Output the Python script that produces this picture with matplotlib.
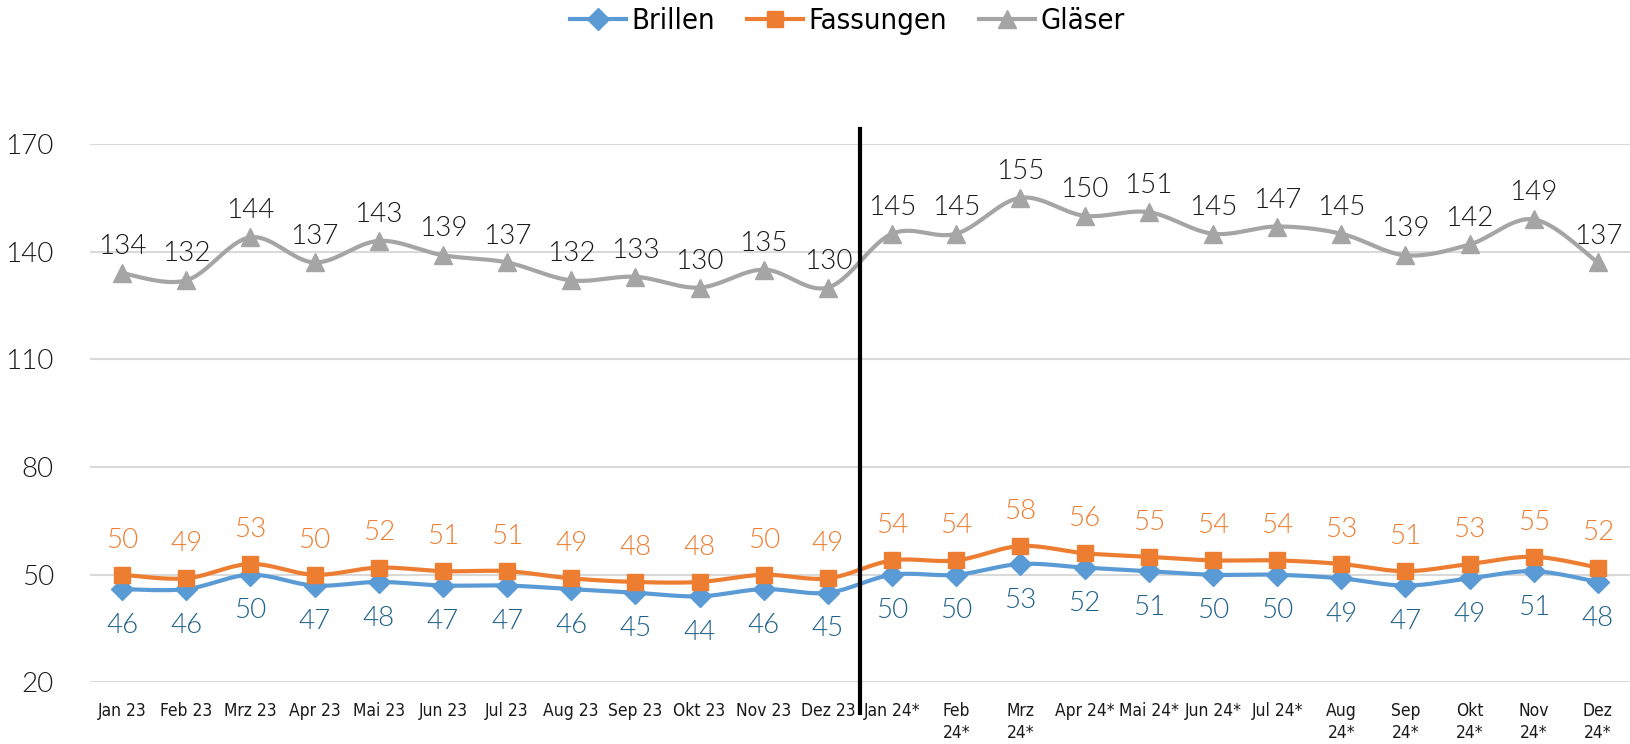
import matplotlib
matplotlib.use("Agg")
import matplotlib.pyplot as plt
import numpy as np

months = ["Jan 23", "Feb 23", "Mrz 23", "Apr 23", "Mai 23", "Jun 23", "Jul 23",
          "Aug 23", "Sep 23", "Okt 23", "Nov 23", "Dez 23",
          "Jan 24*", "Feb\n24*", "Mrz\n24*", "Apr 24*", "Mai 24*", "Jun 24*",
          "Jul 24*", "Aug\n24*", "Sep\n24*", "Okt\n24*", "Nov\n24*", "Dez\n24*"]
brillen = [46, 46, 50, 47, 48, 47, 47, 46, 45, 44, 46, 45,
           50, 50, 53, 52, 51, 50, 50, 49, 47, 49, 51, 48]
fassungen = [50, 49, 53, 50, 52, 51, 51, 49, 48, 48, 50, 49,
             54, 54, 58, 56, 55, 54, 54, 53, 51, 53, 55, 52]
glaeser = [134, 132, 144, 137, 143, 139, 137, 132, 133, 130, 135, 130,
           145, 145, 155, 150, 151, 145, 147, 145, 139, 142, 149, 137]
yticks = [20, 50, 80, 110, 140, 170]

NUM_FONT = ["Lato", "DejaVu Sans"]
NARROW_FONT = ["DejaVu Sans"]


def smooth(x, y, steps=20):
    """Catmull-Rom curve through the points, like Excel's smoothed line"""
    x = np.asarray(x, float)
    y = np.asarray(y, float)
    px = np.concatenate([[x[0]], x, [x[-1]]])
    py = np.concatenate([[y[0]], y, [y[-1]]])
    xs, ys = [], []
    t = np.linspace(0, 1, steps)
    for i in range(1, len(px) - 2):
        for arr, out in ((px, xs), (py, ys)):
            p0, p1, p2, p3 = arr[i - 1], arr[i], arr[i + 1], arr[i + 2]
            c = 0.5 * ((2 * p1) + (-p0 + p2) * t
                       + (2 * p0 - 5 * p1 + 4 * p2 - p3) * t ** 2
                       + (-p0 + 3 * p1 - 3 * p2 + p3) * t ** 3)
            out.extend(c)
    return np.array(xs), np.array(ys)


fig = plt.figure(figsize=(16.3, 7.44), dpi=100)
ax = fig.add_axes([0.0552, 0.0827, 0.9448, 0.7238])

x = np.arange(len(months))
series = [
    ("Brillen", brillen, "#5B9BD5", "D", 11, "#1F6189", -17),
    ("Fassungen", fassungen, "#ED7D31", "s", 11, "#ED7D31", 16),
    ("Gläser", glaeser, "#A5A5A5", "^", 13, "#1a1a1a", 10),
]
handles = []
for name, vals, col, mk, ms, lcol, off in series:
    sx, sy = smooth(x, vals)
    ax.plot(sx, sy, color=col, lw=3, solid_capstyle="round", zorder=3)
    ax.plot(x, vals, ls="none", marker=mk, ms=ms, color=col, zorder=4)
    h, = ax.plot([], [], color=col, lw=3, marker=mk, ms=ms, label=name)
    handles.append(h)
    for xi, v in zip(x, vals):
        ax.annotate(str(v), (xi, v), xytext=(0, off), textcoords="offset points",
                    ha="center", va="bottom" if off > 0 else "top",
                    fontsize=20, color=lcol, family=NUM_FONT, weight=300)

ax.set_xlim(-0.5, len(months) - 0.5)
ax.set_ylim(20, 170)
ax.set_yticks(yticks)
ax.set_yticklabels([str(t) for t in yticks], fontsize=20, family=NUM_FONT,
                   weight=300, color="#1a1a1a")
ax.set_xticks(x)
ax.set_xticklabels(months, fontsize=12.5, family=NARROW_FONT, stretch="condensed",
                   va="top", linespacing=1.3, color="#1a1a1a")
ax.tick_params(axis="both", length=0)
ax.tick_params(axis="y", pad=26)
ax.tick_params(axis="x", pad=14)
ax.grid(axis="y", color="#D9D9D9", lw=1.5)
ax.set_axisbelow(True)
for s in ax.spines.values():
    s.set_visible(False)

# divider between 2023 and 2024
ax.axvline(11.5, ymin=-0.057, ymax=1.028, color="black", lw=3, clip_on=False, zorder=5)

fig.legend(handles=handles, loc="center", bbox_to_anchor=(0.52, 0.972), ncol=3,
           frameon=False,
           prop={"family": NARROW_FONT, "size": 21, "stretch": "condensed"},
           handlelength=1.9, columnspacing=1.1, handletextpad=0.2)

fig.savefig("out.png", dpi=100, facecolor="white")
